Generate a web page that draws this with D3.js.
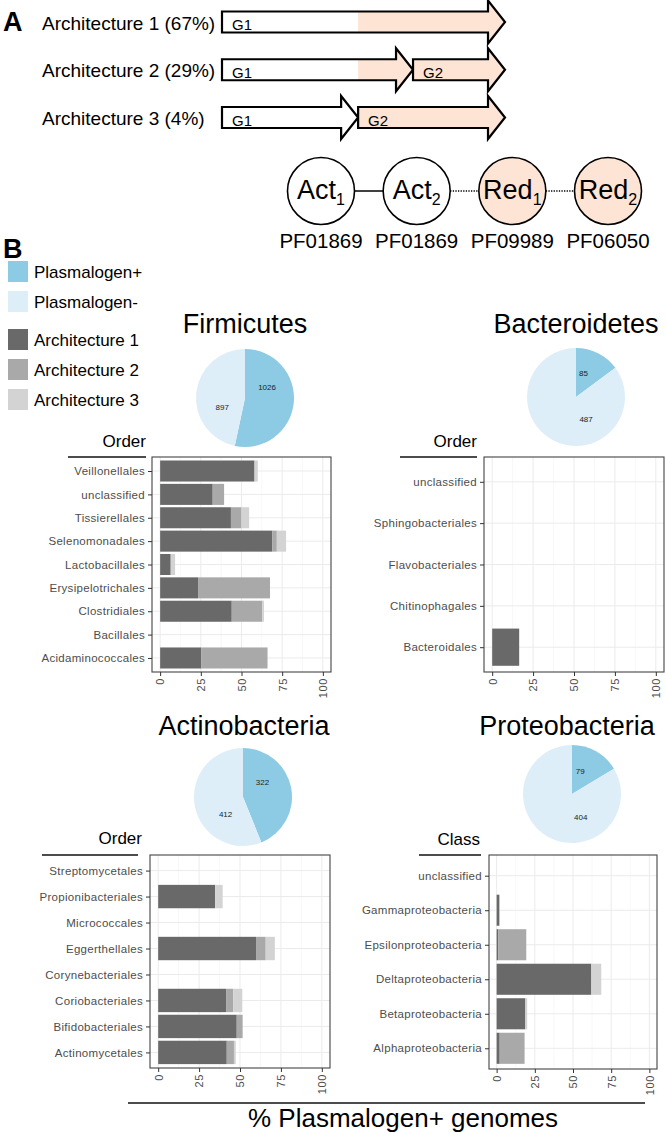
<!DOCTYPE html>
<html><head><meta charset="utf-8">
<script src="https://cdn.jsdelivr.net/npm/d3@7"></script>
<style>
body{margin:0;background:#fff}
svg{display:block}
text{font-family:"Liberation Sans",Arial,Helvetica,sans-serif}
</style>
</head><body>
<svg id="c" width="666" height="1133"></svg>
<script>
// ---------- DATA ----------
const archLabels = ["Architecture 1 (67%)", "Architecture 2 (29%)", "Architecture 3 (4%)"];
// gene boundaries (fraction of locus length) per architecture
const archGenes = [
  [{name:"G1", s:0, e:1}],
  [{name:"G1", s:0, e:0.675}, {name:"G2", s:0.675, e:1}],
  [{name:"G1", s:0, e:0.481}, {name:"G2", s:0.481, e:1}]
];
const reductaseStart = 0.481;
const domainNames = ["Act", "Act", "Red", "Red"];
const domainSubs = ["1", "2", "1", "2"];
const domainIsRed = [false, false, true, true];
const pfamIds = ["PF01869", "PF01869", "PF09989", "PF06050"];
const domainLinks = ["solid", "dotted", "dotted"];

const legendLabels = ["Plasmalogen+", "Plasmalogen-", "Architecture 1", "Architecture 2", "Architecture 3"];
const xTicks = [0, 25, 50, 75, 100];

const firmTitle = "Firmicutes";
const firmPie = [1026, 897];
const firmCats = ["Veillonellales","unclassified","Tissierellales","Selenomonadales","Lactobacillales","Erysipelotrichales","Clostridiales","Bacillales","Acidaminococcales"];
const firmA1 = [58, 32.3, 43.5, 69, 6.5, 23.3, 44, 0, 25.2];
const firmA2 = [0, 7, 6.5, 2.7, 0, 44.2, 18.8, 0, 40.8];
const firmA3 = [2, 0, 4.7, 5.7, 2.7, 0, 1, 0, 0];

const bactTitle = "Bacteroidetes";
const bactPie = [85, 487];
const bactCats = ["unclassified","Sphingobacteriales","Flavobacteriales","Chitinophagales","Bacteroidales"];
const bactA1 = [0, 0, 0, 0, 16.5];
const bactA2 = [0, 0, 0, 0, 0];
const bactA3 = [0, 0, 0, 0, 0];

const actTitle = "Actinobacteria";
const actPie = [322, 412];
const actCats = ["Streptomycetales","Propionibacteriales","Micrococcales","Eggerthellales","Corynebacteriales","Coriobacteriales","Bifidobacteriales","Actinomycetales"];
const actA1 = [0, 34.8, 0, 59.8, 0, 41.5, 48, 41.9];
const actA2 = [0, 0, 0, 5.9, 0, 4.4, 3.6, 4.4];
const actA3 = [0, 4.6, 0, 5.6, 0, 5.5, 0, 1.1];

const protTitle = "Proteobacteria";
const protPie = [79, 404];
const protCats = ["unclassified","Gammaproteobacteria","Epsilonproteobacteria","Deltaproteobacteria","Betaproteobacteria","Alphaproteobacteria"];
const protA1 = [0, 1.8, 1, 62, 18.8, 2];
const protA2 = [0, 0, 18.4, 0, 0, 16.3];
const protA3 = [0, 0, 0, 6.5, 1.2, 0];

const xTitle = "% Plasmalogen+ genomes";

// ---------- STYLE ----------
const PINK = "#fde4d4";
const POS = "#8ccbe3", NEG = "#ddeef9";
const ARCH = ["#696969", "#a9a9a9", "#d3d3d3"];
const GREY = "#4d4d4d";

const svg = d3.select("#c");

// ---------- PANEL A ----------
svg.append("text").attr("x", 3).attr("y", 31).attr("font-size", 27).attr("font-weight", "bold").text("A");

const lx = d3.scaleLinear().domain([0, 1]).range([222, 505]);
const rowY = d3.scalePoint().domain(d3.range(3)).range([22, 117.5]);
const BH = 21, HH = 43, HL = 17;
function arrowPath(x0, x1, cy) {
  return `M${x0},${cy-BH/2}L${x1-HL},${cy-BH/2}L${x1-HL},${cy-HH/2}L${x1},${cy}L${x1-HL},${cy+HH/2}L${x1-HL},${cy+BH/2}L${x0},${cy+BH/2}Z`;
}
const defs = svg.append("defs");
archLabels.forEach((lab, i) => {
  const cy = rowY(i);
  svg.append("text").attr("x", 42).attr("y", cy + 7.5).attr("font-size", 19).text(lab);
  archGenes[i].forEach((g, j) => {
    const x0 = lx(g.s), x1 = lx(g.e);
    const id = `clip${i}_${j}`;
    defs.append("clipPath").attr("id", id).append("path").attr("d", arrowPath(x0, x1, cy));
    svg.append("path").attr("d", arrowPath(x0, x1, cy)).attr("fill", "#fff");
    const ps = Math.max(lx(reductaseStart), x0);
    if (ps < x1) {
      svg.append("rect").attr("clip-path", `url(#${id})`)
        .attr("x", ps).attr("y", cy - HH/2).attr("width", x1 - ps).attr("height", HH).attr("fill", PINK);
    }
    svg.append("path").attr("d", arrowPath(x0, x1, cy)).attr("fill", "none")
      .attr("stroke", "#000").attr("stroke-width", 2.2).attr("stroke-linejoin", "miter");
    svg.append("text").attr("x", x0 + 10).attr("y", cy + 8).attr("font-size", 15).text(g.name);
  });
});

// domains
const dx = d3.scalePoint().domain(d3.range(4)).range([321, 608]);
const dY = 191, dR = 33.5;
domainLinks.forEach((l, i) => {
  svg.append("line").attr("x1", dx(i) + dR).attr("x2", dx(i+1) - dR).attr("y1", dY).attr("y2", dY)
    .attr("stroke", "#000").attr("stroke-width", l === "solid" ? 1.5 : 1.3)
    .attr("stroke-dasharray", l === "solid" ? null : "1.3,1.3");
});
domainNames.forEach((n, i) => {
  svg.append("circle").attr("cx", dx(i)).attr("cy", dY).attr("r", dR)
    .attr("fill", domainIsRed[i] ? PINK : "#fff").attr("stroke", "#000").attr("stroke-width", 1.6);
  const t = svg.append("text").attr("x", dx(i)).attr("y", dY + 8).attr("text-anchor", "middle").attr("font-size", 27);
  t.append("tspan").text(n);
  t.append("tspan").attr("font-size", 16).attr("dy", 6).text(domainSubs[i]);
  svg.append("text").attr("x", dx(i)).attr("y", 248).attr("text-anchor", "middle").attr("font-size", 20.5).text(pfamIds[i]);
});

// ---------- PANEL B ----------
svg.append("text").attr("x", 3).attr("y", 258).attr("font-size", 27).attr("font-weight", "bold").text("B");

const legColors = [POS, NEG, ARCH[0], ARCH[1], ARCH[2]];
const legTops = [261, 291, 329, 359, 389];
legendLabels.forEach((l, i) => {
  svg.append("rect").attr("x", 8).attr("y", legTops[i]).attr("width", 20).attr("height", 21).attr("fill", legColors[i]);
  svg.append("text").attr("x", 34).attr("y", legTops[i] + 17).attr("font-size", 17).text(l);
});

function pie(vals, cx, cy, r) {
  const arcs = d3.pie().sort(null)(vals);
  const arc = d3.arc().innerRadius(0).outerRadius(r);
  const g = svg.append("g").attr("transform", `translate(${cx},${cy})`);
  g.selectAll("path").data(arcs).join("path").attr("d", arc).attr("fill", (d, i) => i === 0 ? POS : NEG);
  // labels placed one third into each slice (as in the source figure)
  g.selectAll("text").data(arcs).join("text")
    .attr("transform", d => {
      const a = d.startAngle + (d.endAngle - d.startAngle) / 3, rr = r * 0.5;
      return `translate(${rr * Math.sin(a)},${-rr * Math.cos(a)})`;
    })
    .attr("text-anchor", "middle").attr("dy", "0.35em").attr("font-size", 8).attr("fill", "#222")
    .text(d => d.data);
}

function title(t, cx, y) {
  svg.append("text").attr("x", cx).attr("y", y).attr("text-anchor", "middle").attr("font-size", 27).text(t);
}

function barPanel(cats, a1, a2, a3, box, head) {
  const x = d3.scaleLinear().domain([-5, 105]).range([box.l, box.r]);
  const y = d3.scalePoint().domain(cats).range([box.t, box.b]).padding(0.6);
  const bh = y.step() * 0.9;
  const g = svg.append("g");
  [12.5, 37.5, 62.5, 87.5].forEach(v => g.append("line").attr("x1", x(v)).attr("x2", x(v)).attr("y1", box.t).attr("y2", box.b).attr("stroke", "#f4f4f4").attr("stroke-width", 0.6));
  xTicks.forEach(v => g.append("line").attr("x1", x(v)).attr("x2", x(v)).attr("y1", box.t).attr("y2", box.b).attr("stroke", "#ebebeb").attr("stroke-width", 1));
  cats.forEach(c => g.append("line").attr("x1", box.l).attr("x2", box.r).attr("y1", y(c)).attr("y2", y(c)).attr("stroke", "#ebebeb").attr("stroke-width", 1));
  const series = [a1, a2, a3];
  cats.forEach((c, i) => {
    let acc = 0;
    series.forEach((s, k) => {
      const v = s[i];
      if (v > 0) {
        g.append("rect").attr("x", x(acc)).attr("width", x(acc + v) - x(acc))
          .attr("y", y(c) - bh/2).attr("height", bh).attr("fill", ARCH[k]);
      }
      acc += v;
    });
  });
  g.append("rect").attr("x", box.l).attr("y", box.t).attr("width", box.r - box.l).attr("height", box.b - box.t)
    .attr("fill", "none").attr("stroke", "#444").attr("stroke-width", 1.1);
  const xa = svg.append("g").attr("transform", `translate(0,${box.b})`)
    .call(d3.axisBottom(x).tickValues(xTicks).tickSize(4).tickSizeOuter(0));
  xa.select(".domain").remove();
  xa.selectAll("line").attr("stroke", "#333");
  xa.selectAll("text").attr("transform", "rotate(-90)").attr("x", -6).attr("y", 0).attr("dy", "0.35em")
    .attr("text-anchor", "end").attr("font-size", 11).attr("fill", GREY).attr("letter-spacing", 0.6)
    .attr("font-family", null);
  const ya = svg.append("g").attr("transform", `translate(${box.l},0)`)
    .call(d3.axisLeft(y).tickSize(4).tickSizeOuter(0));
  ya.select(".domain").remove();
  ya.selectAll("line").attr("stroke", "#333");
  ya.selectAll("text").attr("x", -7).attr("font-size", 11.5).attr("fill", GREY).attr("letter-spacing", 0.3)
    .attr("font-family", null);
  svg.append("text").attr("x", head.tx).attr("y", head.ty).attr("text-anchor", "end").attr("font-size", 17).text(head.text);
  svg.append("line").attr("x1", head.l1).attr("x2", head.l2).attr("y1", box.t).attr("y2", box.t)
    .attr("stroke", "#111").attr("stroke-width", 1.6);
}

// Firmicutes
title(firmTitle, 245, 333);
pie(firmPie, 245, 398, 49);
barPanel(firmCats, firmA1, firmA2, firmA3, {l:152, r:331, t:457, b:672}, {text:"Order", tx:146, ty:447, l1:68, l2:146});

// Bacteroidetes
title(bactTitle, 576, 333);
pie(bactPie, 576, 397, 49);
barPanel(bactCats, bactA1, bactA2, bactA3, {l:484, r:664, t:457, b:672}, {text:"Order", tx:477, ty:447, l1:400, l2:477});

// Actinobacteria
title(actTitle, 244, 735);
pie(actPie, 243, 797, 49);
barPanel(actCats, actA1, actA2, actA3, {l:150, r:330, t:855, b:1068}, {text:"Order", tx:142, ty:844, l1:42, l2:138});

// Proteobacteria
title(protTitle, 567, 735);
pie(protPie, 572, 794, 49);
barPanel(protCats, protA1, protA2, protA3, {l:489, r:657, t:855, b:1069}, {text:"Class", tx:480, ty:845, l1:419, l2:481});

// shared x title
svg.append("line").attr("x1", 128).attr("x2", 645).attr("y1", 1103).attr("y2", 1103).attr("stroke", "#111").attr("stroke-width", 1.6);
svg.append("text").attr("x", 403).attr("y", 1127).attr("text-anchor", "middle").attr("font-size", 26).text(xTitle);
</script>
</body></html>
